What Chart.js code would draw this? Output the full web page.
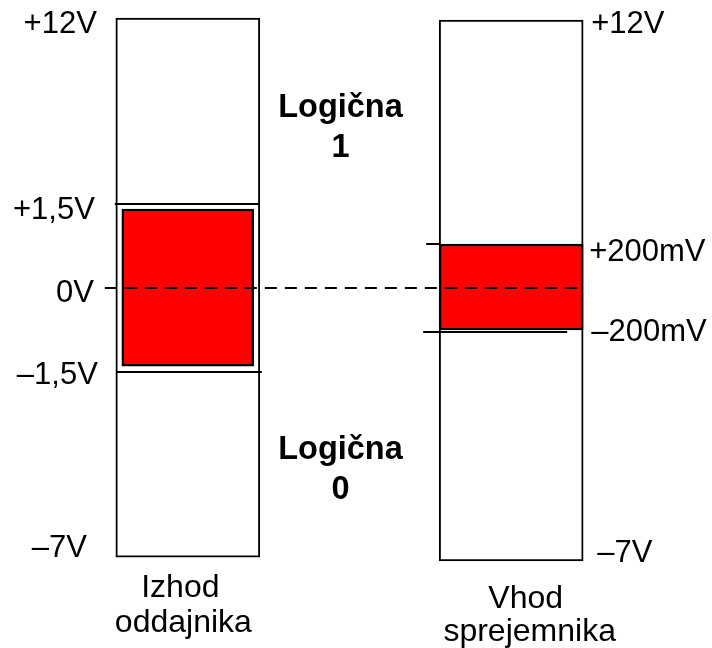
<!DOCTYPE html>
<html>
<head>
<meta charset="utf-8">
<script src="https://cdn.jsdelivr.net/npm/chart.js@4.4.0/dist/chart.umd.min.js"></script>
<style>
  html, body { margin: 0; padding: 0; background: #fff; }
</style>
</head>
<body>
<canvas id="levels" width="712" height="648"></canvas>
<script>
// columns of the drawing
const categories = ['Izhod oddajnika', '', 'Vhod sprejemnika'];
const captions = [['Izhod', 'oddajnika'], null, ['Vhod', 'sprejemnika']];

// the drawing is not to scale: values are positions on a schematic level axis (0 = 0V)
const railRange = [[-9.61, 9.64], null, [-9.75, 9.57]];
const driverRange = [[-2.79, 2.82], null, null];
const receiverRange = [null, null, [-1.5, 1.57]];

const leftLabels = ['+12V', '+1,5V', '0V', '\u20131,5V', '\u20137V'];
const leftLevels = [9.64, 3, 0, -3, -9.61];
const rightLabels = ['+12V', '+200mV', '\u2013200mV', '\u20137V'];
const rightLevels = [9.57, 1.57, -1.57, -9.75];

const zoneLabels = [['Logična', '1'], ['Logična', '0']];
const zoneLevels = [6.11, -6.11];

const FONT = '"Liberation Sans", Arial, sans-serif';

const schemePlugin = {
  id: 'scheme',
  afterDatasetsDraw(chart) {
    const { ctx, scales: { x, y } } = chart;
    const rails = chart.getDatasetMeta(0).data;
    const L = rails[0], R = rails[2];
    const lx0 = L.x - L.width / 2, lx1 = L.x + L.width / 2;
    const rx0 = R.x - R.width / 2, rx1 = R.x + R.width / 2;

    ctx.save();
    ctx.strokeStyle = '#000';
    ctx.lineWidth = 2;
    const hline = (xa, xb, v) => {
      const py = Math.round(y.getPixelForValue(v));
      ctx.beginPath(); ctx.moveTo(xa, py); ctx.lineTo(xb, py); ctx.stroke();
    };
    // +-1,5V marks on the driver side
    hline(lx0 - 1, lx1, leftLevels[1]);
    hline(lx0 + 1, lx1 + 2, leftLevels[3]);
    // +-200mV marks on the receiver side
    hline(rx0 - 13, rx0, rightLevels[1]);
    hline(rx0 - 16, rx1 - 16, rightLevels[2]);

    // 0V dashed line
    ctx.lineWidth = 2;
    ctx.setLineDash([12, 8]);
    const y0 = Math.round(y.getPixelForValue(leftLevels[2]));
    ctx.beginPath(); ctx.moveTo(lx0 - 11, y0); ctx.lineTo(rx1, y0); ctx.stroke();
    ctx.setLineDash([]);

    // level labels
    ctx.fillStyle = '#000';
    ctx.textBaseline = 'alphabetic';
    ctx.font = '31px ' + FONT;
    const leftGap = [19, 21, 22, 18, 29];
    const leftDy = [15, 15, 14, 12, 0];
    ctx.textAlign = 'right';
    leftLabels.forEach((t, i) => {
      ctx.fillText(t, lx0 - leftGap[i], y.getPixelForValue(leftLevels[i]) + leftDy[i]);
    });
    const rightGap = [8, 6, 8, 14];
    const rightDy = [13, 17, 9, 1];
    ctx.textAlign = 'left';
    rightLabels.forEach((t, i) => {
      ctx.fillText(t, rx1 + rightGap[i], y.getPixelForValue(rightLevels[i]) + rightDy[i]);
    });

    // logic zones
    ctx.textAlign = 'center';
    ctx.font = 'bold 32.5px ' + FONT;
    const zx = x.getPixelForValue(1) - 9;
    zoneLabels.forEach((lines, i) => {
      const by = y.getPixelForValue(zoneLevels[i]);
      lines.forEach((t, j) => ctx.fillText(t, zx, by + j * 40));
    });

    // column captions
    ctx.font = '32px ' + FONT;
    const capDx = [[-7.5, -4.5], null, [14.5, 18.5]];
    const capDy = [[40, 75], null, [47, 80]];
    captions.forEach((lines, i) => {
      if (!lines) return;
      const bar = rails[i];
      const bottom = y.getPixelForValue(railRange[i][0]);
      lines.forEach((t, j) => ctx.fillText(t, bar.x + capDx[i][j], bottom + capDy[i][j]));
    });
    ctx.restore();
  }
};

new Chart(document.getElementById('levels'), {
  type: 'bar',
  data: {
    labels: categories,
    datasets: [
      {
        label: 'Območje',
        data: railRange,
        backgroundColor: '#ffffff',
        borderColor: '#000000',
        borderWidth: 2,
        borderSkipped: false,
        barThickness: 144,
        grouped: false,
        order: 3
      },
      {
        label: 'Izhod oddajnika',
        data: driverRange,
        backgroundColor: '#ff0000',
        borderColor: '#000000',
        borderWidth: 2.5,
        borderSkipped: false,
        barThickness: 132,
        grouped: false,
        order: 2
      },
      {
        label: 'Vhod sprejemnika',
        data: receiverRange,
        backgroundColor: '#ff0000',
        borderColor: '#000000',
        borderWidth: 2.5,
        borderSkipped: false,
        barThickness: 144,
        grouped: false,
        order: 1
      }
    ]
  },
  options: {
    responsive: false,
    animation: false,
    layout: { padding: { left: 107, right: 120, top: 8, bottom: 80 } },
    plugins: {
      legend: { display: false },
      tooltip: { enabled: false }
    },
    scales: {
      x: { display: false },
      y: { display: false, min: -10, max: 10 }
    }
  },
  plugins: [schemePlugin]
});
</script>
</body>
</html>
